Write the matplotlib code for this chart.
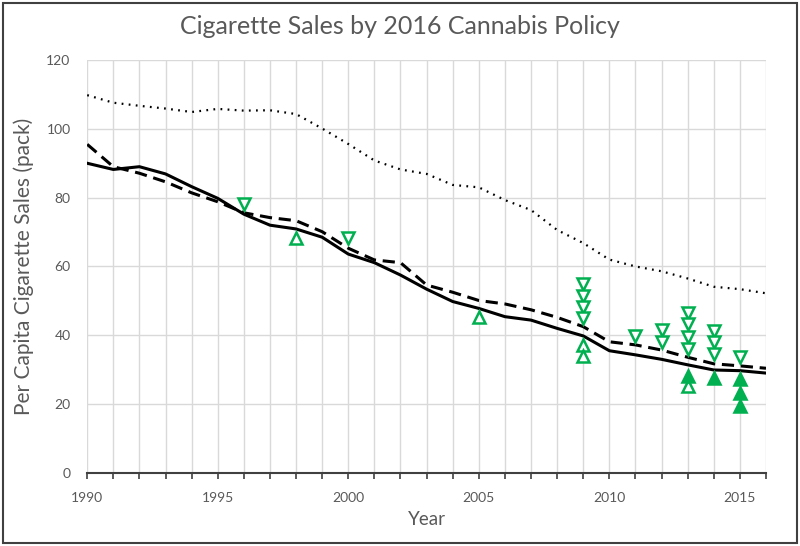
import matplotlib
matplotlib.use("Agg")
import matplotlib.pyplot as plt
from matplotlib.patches import Rectangle

# yearly per capita sales, three state groups
years = list(range(1990, 2017))
sales_solid = [90, 88.2, 89, 86.9, 83.2, 79.8, 75.2, 72, 70.9, 68.5, 63.6, 61.1, 57.5,
               53.4, 49.8, 47.8, 45.4, 44.4, 42, 39.8, 35.5, 34.3, 33, 31.4, 29.9, 29.7, 29]
sales_dashed = [95.5, 89, 87.1, 84.6, 81.4, 78.8, 75.6, 74.2, 73.3, 70.1, 65.3, 61.9, 61.1,
                54.6, 52.5, 50.1, 49.1, 47.4, 45.2, 42.5, 38.1, 37.2, 35.7, 33.6, 31.7, 31.1, 30.4]
sales_dotted = [109.8, 107.6, 106.7, 105.9, 104.9, 105.8, 105.3, 105.4, 104.3, 100.1, 95.6, 90.8,
                88.2, 86.9, 83.7, 83, 79.3, 76.4, 70.6, 66.8, 62, 60, 58.6, 56.5, 54.1, 53.4, 52.2]

# individual states at their policy year
open_down_years = [1996, 2000, 2009, 2009, 2009, 2009, 2011, 2012, 2012,
                   2013, 2013, 2013, 2013, 2014, 2014, 2014, 2015]
open_down_vals = [78.2, 68.2, 54.9, 51.5, 48.3, 44.9, 39.8, 41.5, 37.9,
                  46.6, 43.2, 39.6, 36, 41.3, 37.9, 34.5, 33.6]
open_up_years = [1998, 2005, 2009, 2009, 2013]
open_up_vals = [68.2, 45.4, 37.2, 34, 25.1]
filled_up_years = [2013, 2014, 2015, 2015, 2015]
filled_up_vals = [28.2, 27.5, 27.2, 23.2, 19.3]

green = "#00B050"
gray = "#595959"
plt.rcParams['font.family'] = ['Lato', 'DejaVu Sans']

fig = plt.figure(figsize=(8, 5.46), dpi=100)
ax = fig.add_axes([0.109, 0.134, 0.8485, 0.756])

ax.plot(years, sales_dotted, color="black", lw=1.6, linestyle=(0, (0.8, 2.4)), zorder=3)
ax.plot(years, sales_dashed, color="black", lw=2.2, linestyle=(0, (4, 2.2)), zorder=3)
ax.plot(years, sales_solid, color="black", lw=2.2, zorder=3)

ax.plot(open_down_years, open_down_vals, linestyle="none", marker="v", ms=8.5,
        mfc="white", mec=green, mew=1.8, zorder=4)
ax.plot(open_up_years, open_up_vals, linestyle="none", marker="^", ms=8.5,
        mfc="white", mec=green, mew=1.8, zorder=4)
ax.plot(filled_up_years, filled_up_vals, linestyle="none", marker="^", ms=8.5,
        mfc=green, mec=green, mew=1.8, zorder=4)

ax.set_xlim(1990, 2016)
ax.set_ylim(0, 120)
ax.set_yticks(range(0, 121, 20))
ax.set_xticks(years, minor=True)
ax.set_xticks(range(1990, 2016, 5))
ax.grid(True, which="both", axis="x", color="#D9D9D9", lw=1)
ax.grid(True, axis="y", color="#D9D9D9", lw=1)
ax.set_axisbelow(True)
for s in ["left", "right", "top"]:
    ax.spines[s].set_visible(False)
ax.spines["bottom"].set_color("#404040")
ax.spines["bottom"].set_linewidth(1.5)
ax.tick_params(axis="y", length=0, pad=12, labelsize=10, labelcolor=gray)
ax.tick_params(axis="x", which="both", length=4, width=1.2, color="#404040",
               direction="out", pad=10, labelsize=10, labelcolor=gray)

ax.set_xlabel("Year", fontsize=13.5, color=gray, labelpad=5)
ax.set_ylabel("Per Capita Cigarette Sales (pack)", fontsize=15, color=gray, labelpad=9)
fig.text(0.5, 0.951, "Cigarette Sales by 2016 Cannabis Policy", ha="center", va="center",
         fontsize=18, color=gray)

fig.patches.append(Rectangle((0.004, 0.006), 0.992, 0.988, transform=fig.transFigure,
                             fill=False, edgecolor="#404040", lw=1.5))

fig.savefig("out.png", dpi=100)
